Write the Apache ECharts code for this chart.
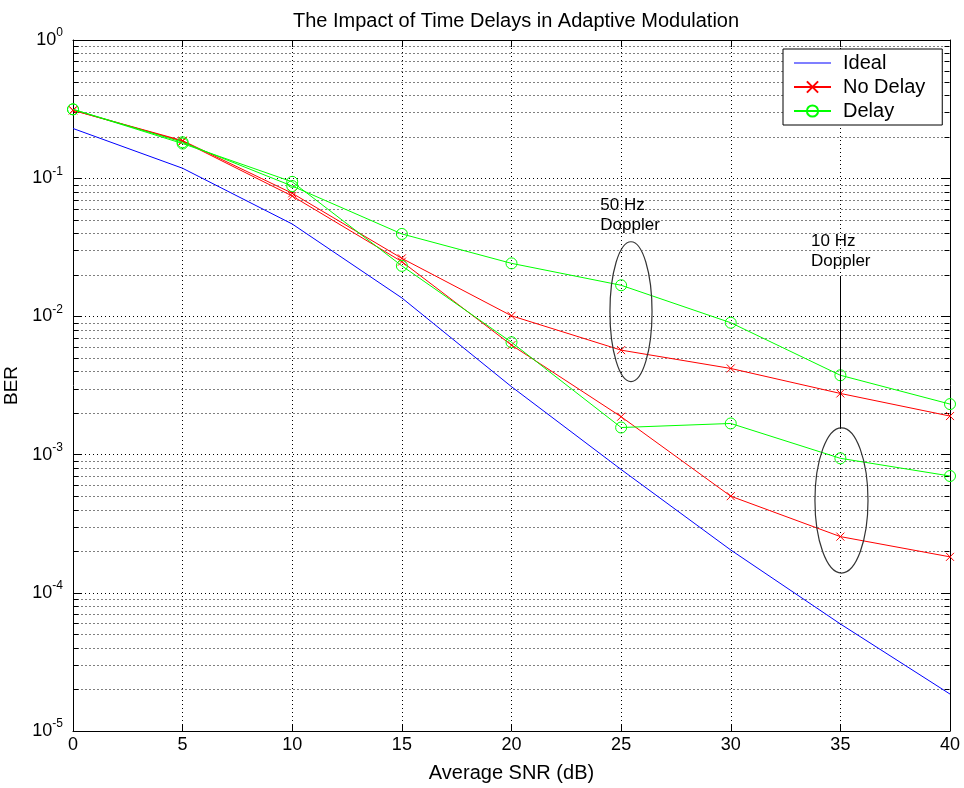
<!DOCTYPE html>
<html>
<head>
<meta charset="utf-8">
<script src="https://cdn.jsdelivr.net/npm/echarts@6/dist/echarts.min.js"></script>
<style>
html,body{margin:0;padding:0;background:#fff;}
#chart{width:964px;height:788px;}
</style>
</head>
<body>
<div id="chart"></div>
<script>
// ---- data ----
const snr = [0, 5, 10, 15, 20, 25, 30, 35, 40];
const idealBER = [0.229, 0.118, 0.0466, 0.0136, 0.0031, 7.8e-4, 2.04e-4, 5.95e-5, 1.85e-5];
const noDelay50Hz = [0.31, 0.187, 0.0778, 0.0263, 0.0101, 0.0057, 0.0042, 0.00277, 0.0019];
const noDelay10Hz = [0.31, 0.185, 0.0743, 0.0249, 0.0062, 0.00188, 5.0e-4, 2.55e-4, 1.82e-4];
const delay50Hz = [0.315, 0.182, 0.0877, 0.0395, 0.0242, 0.0168, 0.0090, 0.00375, 0.00232];
const delay10Hz = [0.315, 0.178, 0.0941, 0.0232, 0.0065, 0.00157, 0.00168, 9.4e-4, 7.0e-4];
const seriesNames = ['Ideal', 'No Delay', 'Delay'];
const xTickValues = [0, 5, 10, 15, 20, 25, 30, 35, 40];
const yDecades = [0, -1, -2, -3, -4, -5];
const minorMantissas = [2, 3, 4, 5, 6, 7, 8, 9];
const minorDecades = [-5, -4, -3, -2, -1];

const FONT = 'Liberation Sans, Arial, Helvetica, sans-serif';
const pair = arr => snr.map((x, i) => [x, arr[i]]);

const minorData = [];
minorDecades.forEach(d => minorMantissas.forEach(m => minorData.push([0, m * Math.pow(10, d)])));

const crossPath = 'path://M0,0L10,10M10,0L0,10';
const plainLineIcon = 'path://M0,0L37,0L37,1.2L0,1.2Z';

const chart = echarts.init(document.getElementById('chart'), null, {renderer: 'canvas'});

function crisp(v) { return Math.round(v) + 0.5; }

const annotations = [
  { lines: ['50 Hz', 'Doppler'], textX: 24.05, textY: [0.064, 0.0459],
    ex: 25.45, eHalf: 0.96, eTop: 0.0347, eBottom: 0.00337 },
  { lines: ['10 Hz', 'Doppler'], textX: 33.66, textY: [0.0351, 0.0252],
    ex: 35.05, eHalf: 1.21, eTop: 0.00156, eBottom: 1.39e-4,
    pointer: { x: 35, top: 0.0194, bottom: 0.00156 } }
];

const option = {
  animation: false,
  backgroundColor: '#fff',
  title: {
    text: 'The Impact of Time Delays in Adaptive Modulation',
    left: 511, textAlign: 'center', top: 6,
    textStyle: { fontFamily: FONT, fontSize: 20, fontWeight: 'normal', color: '#000' }
  },
  legend: {
    data: [{ name: 'Ideal', icon: plainLineIcon }, 'No Delay', 'Delay'],
    orient: 'vertical',
    left: 783, top: 49,
    itemWidth: 37, itemHeight: 14, itemGap: 4,
    padding: [4, 17, 4, 10],
    backgroundColor: '#fff',
    borderColor: '#000', borderWidth: 1, borderRadius: 0,
    textStyle: { fontFamily: FONT, fontSize: 20, lineHeight: 20, color: '#000', padding: [0, 0, 0, 7] }
  },
  grid: { left: 73, right: 14, top: 40, bottom: 57, containLabel: false, outerBoundsMode: 'none' },
  xAxis: [{
    type: 'value', min: 0, max: 40, interval: 5,
    name: 'Average SNR (dB)', nameLocation: 'middle', nameGap: 32,
    nameTextStyle: { fontFamily: FONT, fontSize: 20, color: '#000' },
    axisLine: { show: true, onZero: false, lineStyle: { color: '#000', width: 1 } },
    axisTick: { show: true, inside: true, length: 7, lineStyle: { color: '#000' } },
    axisLabel: { fontFamily: FONT, fontSize: 18, color: '#000', margin: 5,
      formatter: v => xTickValues.indexOf(v) >= 0 ? String(v) : '' },
    splitLine: { show: true, lineStyle: { color: '#000', type: [1, 3], width: 1 } }
  }, {
    type: 'value', min: 0, max: 40, interval: 5, position: 'top',
    axisLine: { show: true, onZero: false, lineStyle: { color: '#000', width: 1 } },
    axisTick: { show: true, inside: true, length: 7, lineStyle: { color: '#000' } },
    axisLabel: { show: false }, splitLine: { show: false }
  }],
  yAxis: [{
    type: 'log', logBase: 10, min: 1e-5, max: 1, splitNumber: 5,
    name: 'BER', nameLocation: 'middle', nameGap: 45, nameRotate: 90,
    nameTextStyle: { fontFamily: FONT, fontSize: 19, color: '#000' },
    axisLine: { show: true, onZero: false, lineStyle: { color: '#000', width: 1 } },
    axisTick: { show: true, inside: true, length: 9, lineStyle: { color: '#000' } },
    axisLabel: {
      margin: 10, color: '#000',
      formatter: v => {
        const e = Math.round(Math.log10(v));
        return yDecades.indexOf(e) >= 0 ? '{b|10}{s|' + e + '}' : '';
      },
      rich: {
        b: { fontFamily: FONT, fontSize: 18, color: '#000', lineHeight: 26 },
        s: { fontFamily: FONT, fontSize: 12, color: '#000', lineHeight: 12, verticalAlign: 'top' }
      }
    },
    splitLine: { show: true, lineStyle: { color: '#000', type: [1, 3], width: 1 } }
  }, {
    type: 'log', logBase: 10, min: 1e-5, max: 1, splitNumber: 5, position: 'right',
    axisLine: { show: true, onZero: false, lineStyle: { color: '#000', width: 1 } },
    axisTick: { show: true, inside: true, length: 9, lineStyle: { color: '#000' } },
    axisLabel: { show: false }, splitLine: { show: false }
  }],
  series: [
    {
      name: 'minor-grid', type: 'custom', xAxisIndex: 0, yAxisIndex: 0,
      silent: true, z: 1, clip: false,
      data: minorData,
      renderItem: (params, api) => {
        const v = api.value(1);
        const p0 = api.coord([0, v]);
        const p1 = api.coord([40, v]);
        const y = crisp(p0[1]);
        const x0 = Math.round(p0[0]) + 0.5, x1 = Math.round(p1[0]) - 0.5;
        return {
          type: 'group',
          children: [
            { type: 'line', shape: { x1: x0, y1: y, x2: x1, y2: y },
              style: { stroke: '#000', lineWidth: 1, lineDash: [1, 3] } },
            { type: 'line', shape: { x1: x0, y1: y, x2: x0 + 5, y2: y },
              style: { stroke: '#000', lineWidth: 1 } },
            { type: 'line', shape: { x1: x1 - 5, y1: y, x2: x1, y2: y },
              style: { stroke: '#000', lineWidth: 1 } }
          ]
        };
      }
    },
    {
      name: 'Ideal', type: 'line', data: pair(idealBER), z: 3,
      showSymbol: false, symbol: 'none',
      lineStyle: { color: '#0000ff', width: 1 }, itemStyle: { color: '#0000ff' }
    },
    {
      name: 'No Delay', type: 'line', data: pair(noDelay50Hz), z: 4,
      symbol: crossPath, symbolSize: 8,
      lineStyle: { color: '#ff0000', width: 1 },
      itemStyle: { color: '#ff0000', borderColor: '#ff0000', borderWidth: 1 }
    },
    {
      name: 'No Delay', type: 'line', data: pair(noDelay10Hz), z: 4,
      symbol: crossPath, symbolSize: 8,
      lineStyle: { color: '#ff0000', width: 1 },
      itemStyle: { color: '#ff0000', borderColor: '#ff0000', borderWidth: 1 }
    },
    {
      name: 'Delay', type: 'line', data: pair(delay50Hz), z: 5,
      symbol: 'circle', symbolSize: 11,
      lineStyle: { color: '#00ff00', width: 1 },
      itemStyle: { color: 'rgba(0,0,0,0)', borderColor: '#00ff00', borderWidth: 1 }
    },
    {
      name: 'Delay', type: 'line', data: pair(delay10Hz), z: 5,
      symbol: 'circle', symbolSize: 11,
      lineStyle: { color: '#00ff00', width: 1 },
      itemStyle: { color: 'rgba(0,0,0,0)', borderColor: '#00ff00', borderWidth: 1 }
    },
    {
      name: 'annotations', type: 'custom', silent: true, z: 6, clip: false,
      data: annotations.map(a => [a.ex, Math.sqrt(a.eTop * a.eBottom)]),
      renderItem: (params, api) => {
        const a = annotations[params.dataIndex];
        const top = api.coord([a.ex, a.eTop]);
        const bot = api.coord([a.ex, a.eBottom]);
        const side = api.coord([a.ex + a.eHalf, a.eTop]);
        const cx = top[0], cy = (top[1] + bot[1]) / 2;
        const children = [{
          type: 'ellipse',
          shape: { cx: cx, cy: cy, rx: side[0] - top[0], ry: (bot[1] - top[1]) / 2 },
          style: { fill: null, stroke: '#333', lineWidth: 1.2 }
        }];
        a.lines.forEach((t, i) => {
          const p = api.coord([a.textX, a.textY[i]]);
          children.push({
            type: 'text',
            style: { text: t, x: p[0], y: p[1], fill: '#000',
              font: '17px ' + FONT, textAlign: 'left', textVerticalAlign: 'middle' }
          });
        });
        if (a.pointer) {
          const q0 = api.coord([a.pointer.x, a.pointer.top]);
          const q1 = api.coord([a.pointer.x, a.pointer.bottom]);
          children.push({ type: 'line',
            shape: { x1: crisp(q0[0]), y1: q0[1], x2: crisp(q0[0]), y2: q1[1] },
            style: { stroke: '#000', lineWidth: 1 } });
        }
        return { type: 'group', children: children };
      }
    }
  ]
};

chart.setOption(option);
</script>
</body>
</html>
